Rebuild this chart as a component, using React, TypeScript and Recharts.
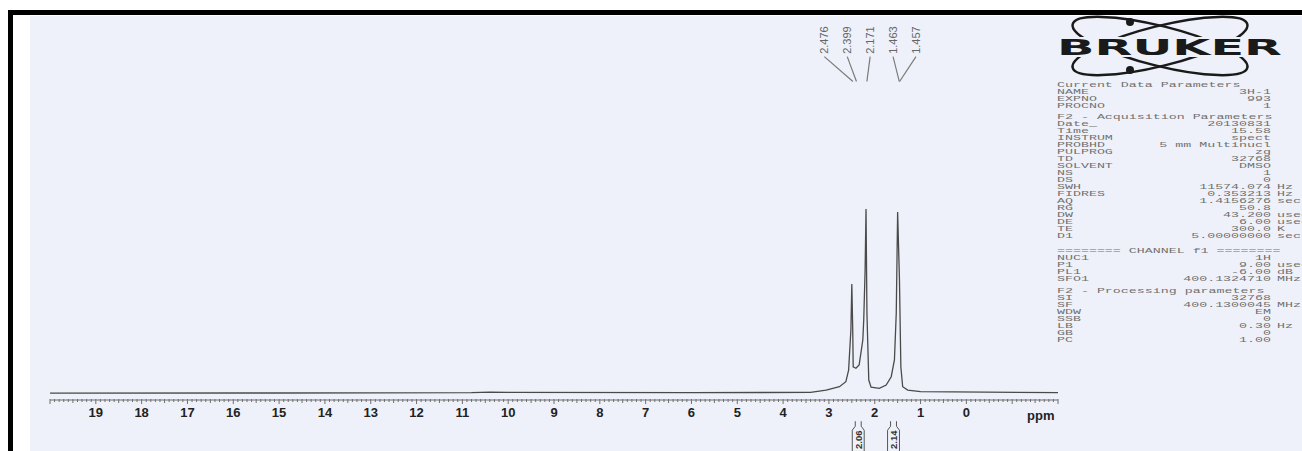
import React from "react";
import {
	LineChart,
	Line,
	XAxis,
	YAxis,
	ReferenceLine,
	ReferenceDot,
	ReferenceArea,
} from "recharts";

// spectrum trace (ppm -> relative intensity)
const shiftPpm = [
	20, 15, 10.8, 10.4, 10.0, 6, 3.4, 3.06, 2.77, 2.63, 2.57, 2.52, 2.5, 2.48,
	2.47, 2.41, 2.34, 2.26, 2.24, 2.21, 2.19, 2.17, 2.13, 2.08, 1.9, 1.75, 1.64,
	1.57, 1.53, 1.5, 1.46, 1.43, 1.39, 1.28, 1.0, -2,
];
const intensity = [
	-0.3, -0.2, 0, 0.3, 0.1, 0, 0.1, 1.4, 3.2, 5.9, 12.2, 34, 58.8, 34, 14,
	13.2, 15, 28.5, 39.3, 66.4, 99.5, 43.1, 6.8, 2.9, 2.3, 4.1, 8.6, 17.7, 43.1,
	97.8, 60.9, 14, 3.2, 1.4, 0.5, 0,
];

const majorTicks = [19, 18, 17, 16, 15, 14, 13, 12, 11, 10, 9, 8, 7, 6, 5, 4, 3, 2, 1, 0];
const peakLabels = ["2.476", "2.399", "2.171", "1.463", "1.457"];
const integralFrom = [2.49, 1.72];
const integralTo = [2.23, 1.46];
const integralValues = ["2.06", "2.14"];

const paramBlocks: string[][][] = [
	[
		["Current Data Parameters", "", ""],
		["NAME", "3H-1", ""],
		["EXPNO", "993", ""],
		["PROCNO", "1", ""],
	],
	[
		["F2 - Acquisition Parameters", "", ""],
		["Date_", "20130831", ""],
		["Time", "15.58", ""],
		["INSTRUM", "spect", ""],
		["PROBHD", "5 mm Multinucl", ""],
		["PULPROG", "zg", ""],
		["TD", "32768", ""],
		["SOLVENT", "DMSO", ""],
		["NS", "1", ""],
		["DS", "0", ""],
		["SWH", "11574.074", "Hz"],
		["FIDRES", "0.353213", "Hz"],
		["AQ", "1.4156276", "sec"],
		["RG", "50.8", ""],
		["DW", "43.200", "usec"],
		["DE", "6.00", "usec"],
		["TE", "300.0", "K"],
		["D1", "5.00000000", "sec"],
	],
	[
		["======== CHANNEL f1 ========", "", ""],
		["NUC1", "1H", ""],
		["P1", "9.00", "usec"],
		["PL1", "-6.00", "dB"],
		["SFO1", "400.1324710", "MHz"],
	],
	[
		["F2 - Processing parameters", "", ""],
		["SI", "32768", ""],
		["SF", "400.1300045", "MHz"],
		["WDW", "EM", ""],
		["SSB", "0", ""],
		["LB", "0.30", "Hz"],
		["GB", "0", ""],
		["PC", "1.00", ""],
	],
];

const spectrum = shiftPpm.map((p, i) => ({ ppm: p, y: intensity[i] }));

// ruler marks every 0.1 ppm across the axis range
const rulerTicks: number[] = [];
for (let i = 200; i >= -20; i--) rulerTicks.push(i / 10);

// label columns are spread around the multiplet centre
const labelCentre = 2.1;
const labelStep = 0.5;
const labelPpm = peakLabels.map((_, i) => labelCentre + (2 - i) * labelStep);

function RulerTick(props: any) {
	const { x, y, payload } = props;
	const v = Math.round(payload.value * 10);
	const major = v % 10 === 0;
	const half = v % 5 === 0;
	const showLabel = major && majorTicks.includes(v / 10);
	return (
		<g>
			<line
				x1={x}
				x2={x}
				y1={y - 1}
				y2={y + (major ? 4 : half ? 3 : 2)}
				stroke="#6f6f6f"
				strokeWidth={1}
			/>
			{showLabel && (
				<text
					x={x}
					y={y + 17}
					textAnchor="middle"
					fontFamily="'Liberation Sans', Arial, sans-serif"
					fontWeight="bold"
					fontSize={13}
					fill="#222"
				>
					{v / 10}
				</text>
			)}
		</g>
	);
}

const blockGaps = [4, 8, 5, 0];

function ParamText() {
	const rows: { y: number; r: string[] }[] = [];
	let y = 87;
	paramBlocks.forEach((block, b) => {
		block.forEach((r) => {
			rows.push({ y, r });
			y += 7;
		});
		y += blockGaps[b];
	});
	const font = {
		fontFamily: "'Liberation Mono', 'DejaVu Sans Mono', monospace",
		fontSize: 7.2,
		fill: "#707070",
	};
	const sx = "scale(1.85,1)";
	return (
		<g>
			{rows.map(({ y, r }, i) => (
				<g key={i}>
					<text transform={`translate(1057,${y}) ${sx}`} {...font}>
						{r[0]}
					</text>
					{r[1] && (
						<text
							transform={`translate(1271,${y}) ${sx}`}
							textAnchor="end"
							{...font}
						>
							{r[1]}
						</text>
					)}
					{r[2] && (
						<text transform={`translate(1277,${y}) ${sx}`} {...font}>
							{r[2]}
						</text>
					)}
				</g>
			))}
		</g>
	);
}

function BrukerLogo() {
	return (
		<g>
			<ellipse
				cx={1160}
				cy={46}
				rx={90}
				ry={20}
				transform="rotate(14 1160 46)"
				fill="none"
				stroke="#1a1a1a"
				strokeWidth={2.5}
			/>
			<ellipse
				cx={1160}
				cy={46}
				rx={90}
				ry={20}
				transform="rotate(-14 1160 46)"
				fill="none"
				stroke="#1a1a1a"
				strokeWidth={2.5}
			/>
			<circle cx={1130} cy={22} r={4} fill="#1a1a1a" />
			<circle cx={1130} cy={70} r={4} fill="#1a1a1a" />
			<rect x={1052} y={37} width={236} height={20} fill="#eef1f9" />
			<text
				x={1057}
				y={55}
				textLength={225}
				lengthAdjust="spacingAndGlyphs"
				fontFamily="'DejaVu Sans', sans-serif"
				fontWeight="bold"
				fontSize={22}
				fill="#1a1a1a"
			>
				BRUKER
			</text>
		</g>
	);
}

export default function App() {
	return (
		<div
			style={{
				position: "absolute",
				left: 0,
				top: 0,
				width: 1302,
				height: 451,
				background: "#fff",
				overflow: "hidden",
			}}
		>
			<div
				style={{
					position: "absolute",
					left: 30,
					top: 16,
					right: 0,
					bottom: 0,
					background: "#eef1f9",
				}}
			/>
			<div
				style={{
					position: "absolute",
					left: 8,
					top: 10,
					width: 1294,
					height: 5,
					background: "#000",
				}}
			/>
			<div
				style={{
					position: "absolute",
					left: 8,
					top: 10,
					width: 5,
					height: 441,
					background: "#000",
				}}
			/>
			<div style={{ position: "absolute", left: 0, top: 0 }}>
				<LineChart
					width={1302}
					height={451}
					data={spectrum}
					margin={{ top: 16, right: 244, bottom: 21, left: 50 }}
				>
					<XAxis
						dataKey="ppm"
						type="number"
						domain={[-2, 20]}
						reversed
						allowDataOverflow
						ticks={rulerTicks}
						interval={0}
						tickLine={false}
						tickSize={0}
						tickMargin={0}
						tick={<RulerTick />}
						axisLine={{ stroke: "#6f6f6f" }}
						height={30}
						label={{
							value: "ppm",
							position: "right",
							offset: -31,
							fontFamily: "'Liberation Sans', Arial, sans-serif",
							fontWeight: "bold",
							fontSize: 13,
							fill: "#222",
						}}
					/>
					<YAxis hide type="number" domain={[-4, 204]} allowDataOverflow />
					<Line
						type="linear"
						dataKey="y"
						stroke="#4a4a4a"
						strokeWidth={1.3}
						dot={false}
						isAnimationActive={false}
					/>
					{peakLabels.map((lab, i) => (
						<ReferenceLine
							key={"c" + i}
							ifOverflow="visible"
							segment={[
								{ x: labelPpm[i], y: 182 },
								{ x: Number(lab), y: 168.5 },
							]}
							stroke="#7a7a7a"
							strokeWidth={1.2}
						/>
					))}
					{peakLabels.map((lab, i) => (
						<ReferenceDot
							key={"l" + i}
							x={labelPpm[i]}
							y={183.5}
							ifOverflow="visible"
							shape={(p: any) => (
								<text
									transform={`translate(${p.cx + 4},${p.cy}) rotate(-90)`}
									fontFamily="'Liberation Sans', Arial, sans-serif"
									fontSize={11}
									fill="#666"
								>
									{lab}
								</text>
							)}
						/>
					))}
					{integralValues.map((val, i) => (
						<ReferenceArea
							key={"i" + i}
							x1={integralFrom[i]}
							x2={integralTo[i]}
							y1={-31.6}
							y2={-15.5}
							ifOverflow="visible"
							shape={(p: any) => {
								const x = Math.min(p.x, p.x + p.width);
								const w = Math.abs(p.width);
								const y = Math.min(p.y, p.y + p.height);
								const h = Math.abs(p.height);
								return (
									<g>
										<path
											d={`M${x},${y + h} L${x},${y + 9} L${x + 3},${y + 5} L${x + 3},${y}`}
											fill="none"
											stroke="#555"
											strokeWidth={1}
										/>
										<path
											d={`M${x + w},${y + h} L${x + w},${y + 9} L${x + w - 3},${y + 5} L${x + w - 3},${y}`}
											fill="none"
											stroke="#555"
											strokeWidth={1}
										/>
										<text
											transform={`translate(${x + w / 2 + 3.5},${y + h - 2}) rotate(-90)`}
											fontFamily="'Liberation Sans', Arial, sans-serif"
											fontWeight="bold"
											fontSize={9.5}
											fill="#333"
										>
											{val}
										</text>
									</g>
								);
							}}
						/>
					))}
				</LineChart>
			</div>
			<svg
				width={1302}
				height={451}
				style={{ position: "absolute", left: 0, top: 0, pointerEvents: "none" }}
			>
				<BrukerLogo />
				<ParamText />
			</svg>
		</div>
	);
}
